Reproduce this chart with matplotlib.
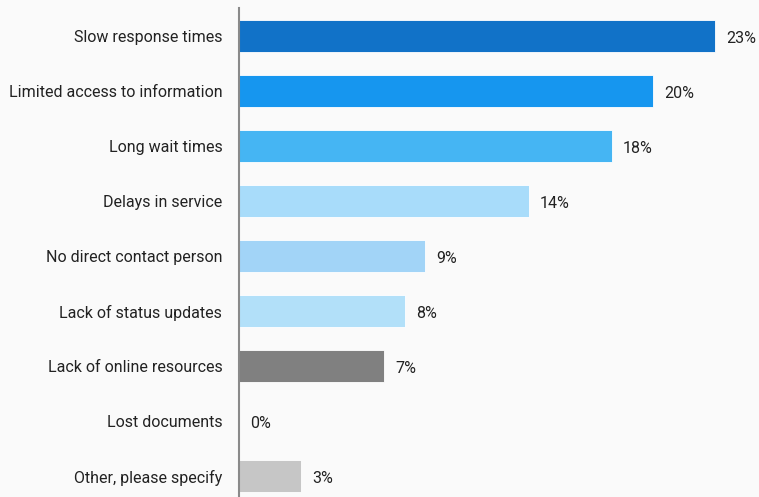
import matplotlib
matplotlib.use("Agg")
import matplotlib.pyplot as plt
from matplotlib.transforms import offset_copy

categories = [
    "Slow response times",
    "Limited access to information",
    "Long wait times",
    "Delays in service",
    "No direct contact person",
    "Lack of status updates",
    "Lack of online resources",
    "Lost documents",
    "Other, please specify",
]
values = [23, 20, 18, 14, 9, 8, 7, 0, 3]
colors = ["#1172c8", "#1696ef", "#45b5f3", "#a8dcfa", "#a2d4f7",
          "#b2e0f9", "#808080", "#c6c6c6", "#c6c6c6"]

plt.rcParams["font.family"] = ["Roboto", "DejaVu Sans"]

W, H = 759, 497
fig = plt.figure(figsize=(W / 100, H / 100), dpi=100)
bg = "#fafafa"
fig.patch.set_facecolor(bg)

left_px, top_px = 239, 8.5
ax = fig.add_axes([left_px / W, 0, 1 - left_px / W, 1 - top_px / H])
ax.set_facecolor(bg)

ypos = list(range(len(categories)))
ax.barh(ypos, values, height=0.58, color=colors, edgecolor="white",
        linewidth=0.6)

ax.set_xlim(0, 25.1)
ax.set_ylim(8.38, -0.5)

ax.set_yticks(ypos)
ax.set_yticklabels(categories, fontsize=11.5, color="#222222")
ax.tick_params(axis="y", length=0, pad=12)
ax.set_xticks([])

for s in ["top", "right", "bottom"]:
    ax.spines[s].set_visible(False)
ax.spines["left"].set_color("#8a8a8a")
ax.spines["left"].set_linewidth(1.5)

lbl_tf = offset_copy(ax.transData, fig=fig, x=11, y=-2, units="dots")
for y, v in zip(ypos, values):
    ax.text(v, y, f"{v}%", transform=lbl_tf, va="center", ha="left",
            fontsize=11.5, color="#222222")

fig.savefig("out.png", dpi=100, facecolor=bg)
